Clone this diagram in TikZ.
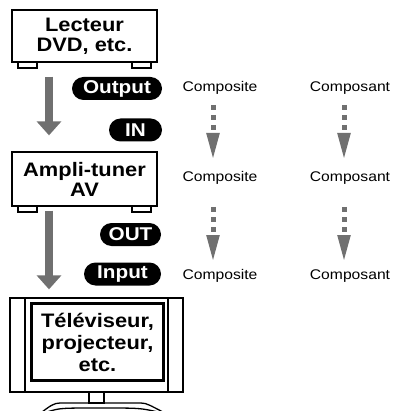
\documentclass[tikz,border=0pt]{standalone}
\usepackage{fontspec}
\setmainfont[FakeStretch=1.12]{Liberation Sans}
\usetikzlibrary{arrows.meta}
\definecolor{arrgray}{RGB}{112,112,112}
\tikzset{
  device/.style={draw, line width=1.3pt, fill=white, align=center, inner sep=0pt,
    font=\bfseries\fontsize{19.5}{20}\selectfont},
  pill/.style={fill=black, text=white, rounded corners=11.5pt, inner sep=0pt,
    minimum height=23pt, font=\bfseries\fontsize{18.5}{18}\selectfont},
  sig/.style={inner sep=0pt, font=\fontsize{14}{14}\selectfont},
  bigarrow/.style={arrgray, line width=8pt, -{Triangle[width=24pt,length=14pt]}},
  dotarrow/.style={arrgray, line width=5pt, dash pattern=on 5pt off 5pt,
    -{Triangle[width=12pt,length=27pt]}},
  outline/.style={line width=1.3pt},
}
\begin{document}
\begin{tikzpicture}[x=1pt,y=-1pt]
\useasboundingbox (0,0) rectangle (392,411);
% Lecteur DVD
\draw[outline] (18,61) rectangle (37,68);
\draw[outline] (132,61) rectangle (151,68);
\node[device, minimum width=145pt, minimum height=52pt] (lect) at (84.5,36) {Lecteur\\DVD, etc.};
% Ampli-tuner
\draw[outline] (18,205) rectangle (37,212);
\draw[outline] (132,205) rectangle (151,212);
\node[device, minimum width=145pt, minimum height=54pt] (ampli) at (84.5,179) {Ampli-tuner\\AV};
% TV
\draw[outline] (89,392) rectangle (104,403);
\draw[outline] (42,412) .. controls (50,406) and (54,403) .. (60,403) -- (141,403)
  .. controls (147,403) and (151,406) .. (163,412);
\draw[outline] (47,412) .. controls (60,408) .. (100,408) .. controls (140,408) .. (158,412);
\draw[outline, fill=white] (10,298) rectangle (183,392);
\draw[outline] (25,298) -- (25,392);
\draw[outline] (168,298) -- (168,392);
\node[draw, line width=1.3pt, minimum width=133pt, minimum height=78pt, inner sep=0pt,
  align=center, font=\bfseries\fontsize{19.5}{22}\selectfont] (tv) at (97.5,342)
  {Téléviseur,\\projecteur,\\etc.};
\draw[line width=1pt] ([shift={(2.5pt,2.5pt)}]tv.south west) rectangle ([shift={(-2.5pt,-2.5pt)}]tv.north east);
% big arrows
\draw[bigarrow] ([xshift=-35.5pt,yshift=-14pt]lect.south) -- ([xshift=-35.5pt,yshift=16pt]ampli.north);
\draw[bigarrow] ([xshift=-35.5pt,yshift=-4pt]ampli.south) -- ([xshift=-48.5pt,yshift=13pt]tv.north);
% pills
\node[pill, minimum width=90pt] (output) at (117,88.5) {Output};
\node[pill, minimum width=53pt] (in) at (135.5,130) {IN};
\node[pill, minimum width=61pt] (out) at (130.5,234.5) {OUT};
\node[pill, minimum width=77pt] (input) at (122.5,274) {Input};
% signals
\node[sig] (c1) at (220,88) {Composite};
\node[sig] (c2) at (220,178) {Composite};
\node[sig] (c3) at (220,276) {Composite};
\node[sig] (k1) at (350,88) {Composant};
\node[sig] (k2) at (350,178) {Composant};
\node[sig] (k3) at (350,276) {Composant};
\draw[dotarrow] ([xshift=-7pt,yshift=-17pt]c1.center) -- ([xshift=-7pt,yshift=18pt]c2.center);
\draw[dotarrow] ([xshift=-7pt,yshift=-29pt]c2.center) -- ([xshift=-7pt,yshift=14pt]c3.center);
\draw[dotarrow] ([xshift=-6pt,yshift=-17pt]k1.center) -- ([xshift=-6pt,yshift=18pt]k2.center);
\draw[dotarrow] ([xshift=-6pt,yshift=-29pt]k2.center) -- ([xshift=-6pt,yshift=14pt]k3.center);
\end{tikzpicture}
\end{document}
